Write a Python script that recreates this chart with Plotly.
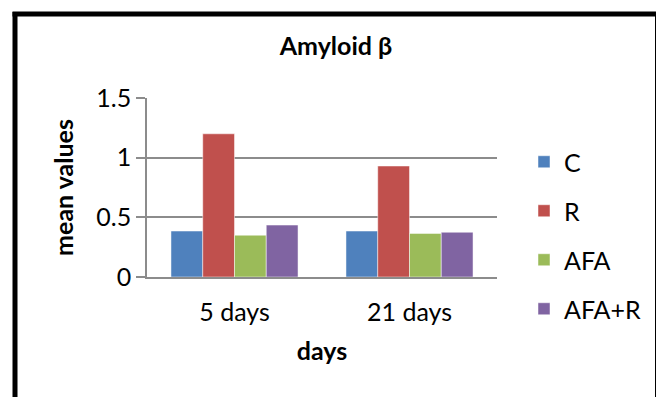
import plotly.graph_objects as go

categories = ["5 days", "21 days"]
series_names = ["C", "R", "AFA", "AFA+R"]
values_C = [0.385, 0.385]
values_R = [1.2, 0.93]
values_AFA = [0.35, 0.365]
values_AFAR = [0.435, 0.375]
colors = ["#4F81BD", "#C0504D", "#9BBB59", "#8064A2"]
y_ticks = [0, 0.5, 1, 1.5]
y_tick_labels = ["0", "0.5", "1", "1.5"]

FONT = "Lato, Calibri, Carlito, sans-serif"
FS = 25

fig = go.Figure()
for name, vals, col in zip(series_names, [values_C, values_R, values_AFA, values_AFAR], colors):
    fig.add_trace(go.Bar(
        x=categories, y=vals, name=name, legendgroup=name,
        marker=dict(color=col, line=dict(color="rgba(255,255,255,0.6)", width=0.8)),
    ))

OFF = 8  # page body margin
# plot area in page pixels: x 147..497, y 98..277
L, R_, T, B = 147, 497, 98, 277
W, H = 664 - OFF, 397 - OFF
pw, ph = R_ - L, B - T

def px_x(px):
    return (px - L) / pw

def px_y(py):
    return (B - py) / ph

fig.update_layout(
    width=W, height=H,
    margin=dict(l=L - OFF, r=W - (R_ - OFF), t=T - OFF, b=H - (B - OFF), pad=0),
    paper_bgcolor="white", plot_bgcolor="white",
    barmode="group", bargap=0.274, bargroupgap=0,
    font=dict(family=FONT, size=FS, color="black"),
    title=dict(text="<b>Amyloid β</b>", x=px_x(336), xref="paper", xanchor="center",
               y=1 - (46 - OFF) / H, yref="container", yanchor="middle",
               font=dict(family=FONT, size=FS, color="black")),
    showlegend=True,
    legend=dict(x=px_x(524), xanchor="left", y=px_y(139), yanchor="top",
                traceorder="grouped", tracegroupgap=13.5, maxheight=360,
                font=dict(family=FONT, size=FS, color="black"),
                bgcolor="rgba(0,0,0,0)"),
    xaxis=dict(showline=True, linecolor="#8C8C8C", linewidth=1.5, ticks="",
               showgrid=False, tickfont=dict(size=FS), ticklabelstandoff=12,
               title=dict(text="<b>days</b>", standoff=18, font=dict(size=FS))),
    yaxis=dict(range=[0, 1.5], tickvals=y_ticks, ticktext=y_tick_labels,
               showline=True, linecolor="#8C8C8C", linewidth=1.5,
               showgrid=True, gridcolor="#8C8C8C", gridwidth=1.5,
               ticks="outside", ticklen=9, tickcolor="#8C8C8C", tickwidth=1.5,
               zeroline=False, tickfont=dict(size=FS),
               title=dict(text="<b>mean values</b>", standoff=16, font=dict(size=FS))),
)

# outer black frame
frame = dict(type="line", xref="paper", yref="paper", line=dict(color="black", width=5))
fig.add_shape(**frame, x0=px_x(15), x1=px_x(15), y0=px_y(12), y1=px_y(420))
fig.add_shape(**frame, x0=px_x(657.5), x1=px_x(657.5), y0=px_y(12), y1=px_y(420))
fig.add_shape(**frame, x0=px_x(12.5), x1=px_x(660), y0=px_y(14), y1=px_y(14))

fig.write_html("out.html")
